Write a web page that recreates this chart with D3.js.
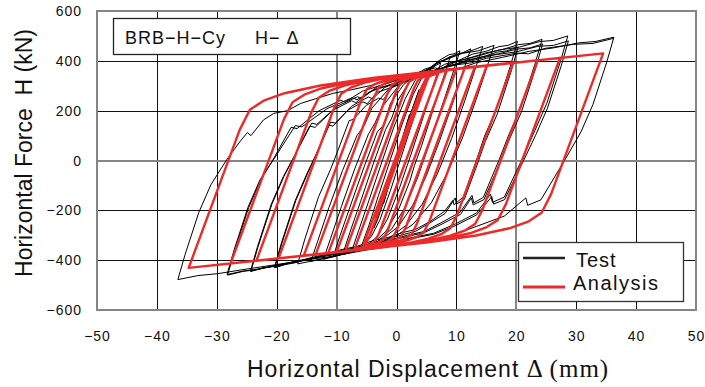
<!DOCTYPE html>
<html>
<head>
<meta charset="utf-8">
<script src="https://cdn.jsdelivr.net/npm/d3@7"></script>
<style>
  body { margin: 0; background: #fff; }
  text { font-family: "Liberation Sans", Arial, sans-serif; fill: #111; }
</style>
</head>
<body>
<svg id="chart" width="705" height="387"></svg>
<script>
// axis ticks
const xTicks = [-50, -40, -30, -20, -10, 0, 10, 20, 30, 40, 50];
const xTickLabels = ['\u221250', '\u221240', '\u221230', '\u221220', '\u221210', '0', '10', '20', '30', '40', '50'];
const yTicks = [-600, -400, -200, 0, 200, 400, 600];
const yTickLabels = ['\u2212600', '\u2212400', '\u2212200', '0', '200', '400', '600'];
// grid lines that come out grey and wider in the original
const greyX = [-10, 20];
const greyY = [0];

const seriesNames = ['Test', 'Analysis'];

// displacement (mm), horizontal force (kN)
const testCurve = [
  [0, 0], [1.2, 105], [2.2, 185],
  [1.1, 100], [-0.6, -35], [-1.6, -125], [-2.2, -175],
  [-1.0, -75], [0.6, 55], [2.2, 175], [3.2, 245], [3.8, 285],
  [2.6, 205], [1.0, 80], [-0.6, -50], [-2.2, -170], [-3.2, -240], [-3.8, -272],
  [-2.5, -180], [-0.8, -60], [1.0, 70], [2.8, 200], [4.3, 300], [5.0, 335], [5.6, 360],
  [4.5, 290], [3.0, 180], [1.0, 30], [-1.0, -120], [-2.8, -240], [-4.2, -305], [-5.0, -325], [-5.8, -340],
  [-4.6, -260], [-3.0, -140], [-1.0, 5], [1.0, 150], [2.8, 265], [4.2, 330], [5.6, 365], [6.6, 382], [7.4, 392],
  [6.2, 305], [4.6, 185], [2.5, 30], [0.5, -110], [-1.5, -235], [-3.2, -305], [-4.8, -338], [-6.3, -355], [-7.5, -365],
  [-6.3, -280], [-4.6, -160], [-2.5, -10], [-0.5, 130], [1.5, 250], [3.2, 325], [5.0, 365], [6.0, 372], [7.0, 395], [8.0, 402], [9.0, 418],
  [7.8, 330], [6.2, 210], [4.2, 60], [3.0, -20], [2.2, -85], [0.2, -205], [-1.8, -285], [-3.8, -330], [-6.2, -358], [-9.0, -378],
  [-7.8, -290], [-6.0, -165], [-3.9, -15], [-1.8, 125], [-0.8, 170], [0.2, 240], [2.2, 318], [4.5, 365], [5.8, 375], [7.0, 400], [8.8, 425], [9.6, 428], [10.6, 440],
  [9.4, 350], [7.7, 225], [5.6, 75], [3.5, -70], [1.4, -190], [-0.8, -275], [-3.2, -325], [-6.2, -355], [-8.6, -372], [-10.6, -387],
  [-9.4, -300], [-7.6, -175], [-5.4, -25], [-3.2, 115], [-2.2, 140], [-1.0, 230], [1.2, 305], [3.8, 355], [5.2, 362], [6.8, 392], [9.8, 425], [11.0, 432], [12.4, 448],
  [11.2, 362], [9.4, 232], [7.2, 80], [5.0, -60], [2.7, -180], [0.3, -265], [-2.6, -320], [-5.8, -350], [-9.0, -375], [-12.2, -397],
  [-11.0, -312], [-9.2, -185], [-7.0, -35], [-4.7, 105], [-3.6, 150], [-2.4, 215], [0.2, 295], [3.2, 350], [5.0, 358], [6.6, 388], [10.4, 428], [12.2, 438], [14.4, 458],
  [13.2, 372], [11.4, 240], [9.2, 88], [6.8, -55], [4.3, -175], [1.6, -260], [-1.6, -318], [-5.4, -352], [-9.8, -380], [-14.3, -405],
  [-13.1, -320], [-11.3, -190], [-9.0, -40], [-6.6, 100], [-5.4, 140], [-4.1, 210], [-1.2, 290], [2.4, 345], [4.4, 352], [6.6, 390], [11.0, 430], [13.6, 440], [16.3, 462],
  [15.1, 375], [13.3, 245], [11.0, 90], [8.5, -50], [5.8, -170], [2.8, -255], [-0.8, -315], [-5.2, -352], [-10.4, -385], [-16.5, -415],
  [-15.3, -315], [-13.0, -145], [-11.0, -35], [-9.75, 42], [-7.9, 160], [-7.2, 165], [-5.07, 221], [-3.0, 250], [-2.2, 245], [-0.7, 293], [1.4, 315], [3.35, 339], [5.6, 352], [6.2, 360], [8.03, 386], [10.4, 402], [12.7, 427], [14.9, 438], [17.1, 457], [18.6, 462], [20.2, 478],
  [19.0, 378], [16.7, 208], [14.7, 98], [13.3, -2], [11.2, -145], [9.6, -178], [9.4, -160], [8.05, -203], [5.6, -245], [3.15, -277], [0.9, -290], [-1.4, -309], [-4.0, -322], [-6.65, -345], [-9.3, -358], [-11.9, -377], [-14.3, -390], [-16.8, -409], [-18.5, -415], [-20.3, -430],
  [-19.1, -330], [-16.8, -160], [-14.8, -50], [-13.4, 26], [-11.3, 142], [-10.6, 138], [-8.1, 202], [-5.6, 235], [-4.9, 228], [-3.2, 273], [-1.0, 292], [1.35, 319], [4.0, 338], [4.6, 334], [6.6, 364], [9.2, 382], [11.9, 404], [14.3, 415], [16.8, 435], [18.4, 440], [20.3, 455],
  [19.1, 355], [16.8, 185], [14.8, 75], [13.4, -21], [11.3, -157], [10.0, -175], [9.8, -150], [8.1, -213], [5.6, -250], [3.2, -284], [1.0, -298], [-1.4, -314], [-4.0, -330], [-6.7, -349], [-9.3, -362], [-11.9, -380], [-14.4, -395], [-16.9, -410], [-18.6, -418], [-20.4, -430],
  [-19.2, -330], [-16.9, -160], [-14.9, -50], [-13.3, 30], [-11.0, 154], [-10.2, 150], [-7.5, 218], [-4.7, 255], [-4.0, 248], [-1.96, 293], [0.6, 318], [3.1, 341], [6.0, 362], [6.7, 356], [9.0, 390], [12.0, 410], [14.9, 432], [17.6, 445], [20.4, 465], [22.3, 470], [24.3, 486],
  [23.1, 386], [20.8, 216], [18.8, 106], [17.1, 1], [14.5, -148], [12.9, -170], [12.6, -140], [10.6, -208], [7.6, -248], [4.6, -285], [1.8, -300], [-1.0, -318], [-4.2, -335], [-7.5, -357], [-10.7, -372], [-13.9, -390], [-17.0, -405], [-20.0, -423], [-22.2, -430], [-24.3, -445],
  [-23.1, -345], [-20.8, -175], [-18.8, -65], [-17.1, 15], [-14.5, 138], [-13.6, 133], [-10.6, 202], [-7.5, 240], [-6.8, 232], [-4.5, 276], [-1.7, 298], [1.1, 324], [4.3, 346], [5.0, 340], [7.6, 372], [10.8, 392], [14.0, 415], [17.0, 428], [20.1, 447], [22.3, 452], [24.4, 468],
  [23.2, 368], [20.9, 198], [18.9, 88], [17.2, -13], [14.6, -157], [12.8, -178], [12.5, -150], [10.7, -216], [7.6, -255], [4.6, -290], [1.8, -305], [-1.0, -322], [-4.2, -338], [-7.5, -360], [-10.7, -375], [-14.0, -392], [-17.0, -407], [-20.1, -424], [-22.3, -432], [-24.4, -445],
  [-23.2, -345], [-20.9, -175], [-18.9, -65], [-17.0, 20], [-14.15, 150], [-13.3, 145], [-9.9, 218], [-6.5, 256], [-5.8, 248], [-3.2, 297], [-0.1, 322], [2.95, 348], [6.5, 372], [7.2, 365], [10.1, 398], [13.7, 420], [17.2, 444], [20.5, 455], [23.85, 477], [26.2, 482], [28.6, 500],
  [27.4, 400], [25.1, 230], [23.1, 120], [21.05, 10], [18.0, -147], [16.0, -168], [15.7, -135], [13.35, -211], [9.8, -255], [6.2, -292], [2.8, -308], [-0.5, -327], [-4.3, -345], [-8.2, -367], [-12.0, -383], [-15.9, -402], [-19.5, -418], [-23.1, -437], [-25.6, -445], [-28.2, -460],
  [-27.0, -360], [-24.7, -190], [-22.7, -80], [-20.6, 4], [-17.6, 133], [-16.6, 128], [-12.9, 200], [-9.3, 242], [-8.6, 234], [-5.7, 278], [-2.4, 303], [0.94, 329], [4.8, 352], [5.5, 346], [8.65, 379], [12.5, 400], [16.4, 424], [20.0, 436], [23.6, 458], [26.2, 462], [28.7, 480],
  [27.5, 380], [25.2, 210], [23.2, 100], [21.1, -6], [18.05, -157], [16.2, -175], [15.9, -145], [13.4, -218], [9.8, -262], [6.2, -296], [2.8, -312], [-0.5, -330], [-4.3, -348], [-8.2, -369], [-12.0, -384], [-15.9, -402], [-19.5, -418], [-23.2, -436], [-25.7, -444], [-28.3, -458],
  [-27.1, -358], [-24.8, -188], [-22.8, -78], [-20.4, 8], [-16.9, 140], [-15.8, 135], [-11.6, 208], [-7.4, 252], [-6.6, 244], [-3.3, 289], [0.5, 315], [4.4, 340], [8.8, 368], [9.6, 361], [13.25, 392], [17.7, 414], [22.1, 438], [26.2, 452], [30.4, 472], [33.3, 478], [36.3, 495],
  [35.1, 395], [32.8, 225], [30.8, 115], [28.1, 2], [24.1, -158], [21.9, -180], [21.6, -150], [18.0, -223], [13.3, -265], [8.6, -306], [4.2, -322], [-0.2, -342], [-5.2, -360], [-10.25, -383], [-15.3, -400], [-20.4, -419], [-25.1, -436], [-29.8, -454], [-33.2, -462], [-36.5, -478],
  [-35.3, -378], [-33.0, -208], [-31.0, -98], [-28.3, 5], [-26.0, 80], [-24.9, 112], [-24.3, 100], [-22.2, 163], [-20.5, 189], [-18.2, 200], [-16.0, 229], [-13.5, 248], [-10.5, 270], [-8.8, 278], [-7.7, 283], [-4.5, 300], [0.0, 331], [2.0, 328], [5.0, 355], [10.0, 384], [12.5, 392], [15.0, 410], [20.1, 431], [22.0, 428], [24.8, 450], [29.5, 466], [32.8, 470], [36.2, 490]
];

const analysisCurve = [
  [0, 0], [2, 130], [-2, -130], [3.5, 228], [-3.5, -228],
  [4.70, 306], [5.3, 333],
  [-4.47, -302], [-5.06, -330], [-5.5, -337],
  [4.27, 298], [4.90, 328], [5.74, 341], [7.0, 352],
  [-2.91, -292], [-3.56, -323], [-4.45, -337], [-5.80, -349], [-7.0, -355],
  [2.92, 290], [3.60, 322], [4.52, 336], [5.93, 349], [8.4, 361],
  [-1.52, -284], [-2.23, -317], [-3.19, -332], [-4.65, -345], [-7.15, -358], [-8.5, -362],
  [1.39, 281], [2.13, 316], [3.13, 331], [4.65, 344], [7.25, 358], [10.0, 367],
  [0.13, -274], [-0.64, -311], [-1.68, -327], [-3.26, -341], [-5.96, -355], [-10.0, -368],
  [-0.16, 271], [0.64, 309], [1.71, 326], [3.35, 340], [6.15, 355], [10.35, 369], [11.4, 372],
  [1.59, -266], [0.77, -305], [-0.34, -322], [-2.03, -337], [-4.93, -352], [-9.28, -366], [-11.4, -372],
  [-1.62, 263], [-0.78, 303], [0.37, 321], [2.11, 336], [5.10, 352], [9.58, 367], [13.1, 377],
  [3.37, -256], [2.49, -298], [1.30, -316], [-0.51, -332], [-3.60, -348], [-8.25, -364], [-13.5, -378],
  [-3.82, 251], [-2.91, 295], [-1.67, 314], [0.22, 331], [3.45, 347], [8.31, 364], [15.1, 382],
  [5.48, -244], [4.52, -289], [3.23, -309], [1.27, -326], [-2.10, -344], [-7.15, -361], [-15.5, -383],
  [-5.93, 239], [-4.94, 286], [-3.60, 307], [-1.56, 325], [1.94, 343], [7.19, 361], [19.5, 393],
  [10.05, -222], [8.98, -272], [7.53, -295], [5.33, -314], [1.55, -334], [-4.13, -353], [-19.7, -393],
  [-10.37, 214], [-9.22, 268], [-7.66, 292], [-5.30, 313], [-1.24, 334], [4.85, 354], [23.6, 403],
  [14.38, -196], [13.15, -254], [11.49, -280], [8.97, -302], [4.65, -325], [-1.84, -347], [-23.4, -403],
  [-14.28, 190], [-12.99, 252], [-11.24, 279], [-8.57, 302], [-4.01, 326], [2.84, 349], [27.3, 412],
  [18.28, -174], [16.92, -239], [15.07, -267], [12.27, -292], [7.46, -317], [0.26, -341], [-27.7, -413],
  [-18.80, 165], [-17.36, 234], [-15.41, 264], [-12.44, 290], [-7.35, 316], [0.28, 342], [34.5, 430],
  [25.79, -136], [24.22, -210], [22.09, -244], [18.85, -272], [13.29, -301], [4.96, -329], [-34.7, -431],
  [-26.18, 123], [-24.48, 204], [-22.18, 240], [-18.68, 270], [-12.68, 301], [-3.68, 332], [34.5, 430]
];

const svg = d3.select('#chart');
const margin = { top: 11, right: 9, bottom: 77, left: 97 };
const width = 705 - margin.left - margin.right;
const height = 387 - margin.top - margin.bottom;

const x = d3.scaleLinear().domain([-50, 50]).range([margin.left, margin.left + width]);
const y = d3.scaleLinear().domain([-600, 600]).range([margin.top + height, margin.top]);

svg.append('rect')
  .attr('width', 705)
  .attr('height', 387)
  .attr('fill', '#fff');

// grid
const grid = svg.append('g');
xTicks.slice(1, -1).forEach(v => {
  const grey = greyX.includes(v);
  const px = grey ? Math.round(x(v)) : Math.round(x(v)) + 0.5;
  grid.append('line')
    .attr('x1', px).attr('x2', px)
    .attr('y1', y(600)).attr('y2', y(-600))
    .attr('stroke', grey ? '#858585' : '#111')
    .attr('stroke-width', grey ? 2 : 1);
});
yTicks.slice(1, -1).forEach(v => {
  const grey = greyY.includes(v);
  const py = grey ? Math.round(y(v)) : Math.round(y(v)) + 0.5;
  grid.append('line')
    .attr('x1', x(-50)).attr('x2', x(50))
    .attr('y1', py).attr('y2', py)
    .attr('stroke', grey ? '#858585' : '#111')
    .attr('stroke-width', grey ? 2 : 1);
});

svg.append('rect')
  .attr('x', x(-50))
  .attr('y', y(600))
  .attr('width', x(50) - x(-50))
  .attr('height', y(-600) - y(600))
  .attr('fill', 'none')
  .attr('stroke', '#858585')
  .attr('stroke-width', 2);

// tick labels
svg.append('g')
  .selectAll('text')
  .data(xTicks)
  .join('text')
    .attr('x', d => x(d) + 0.5)
    .attr('y', 341)
    .attr('text-anchor', 'middle')
    .style('font-size', '14px')
    .style('letter-spacing', '1px')
    .text((d, i) => xTickLabels[i]);

svg.append('g')
  .selectAll('text')
  .data(yTicks)
  .join('text')
    .attr('x', 82)
    .attr('y', d => y(d) + 5)
    .attr('text-anchor', 'end')
    .style('font-size', '14px')
    .style('letter-spacing', '1px')
    .text((d, i) => yTickLabels[i]);

// curves
const line = d3.line()
  .x(d => x(d[0]))
  .y(d => y(d[1]));

svg.append('path')
  .datum(testCurve)
  .attr('d', line)
  .attr('fill', 'none')
  .attr('stroke', '#000')
  .attr('stroke-width', 1)
  .attr('stroke-linejoin', 'round');

svg.append('path')
  .datum(analysisCurve)
  .attr('d', line)
  .attr('fill', 'none')
  .attr('stroke', '#ec2a2a')
  .attr('stroke-width', 2.4)
  .attr('stroke-linejoin', 'round');

// title box
svg.append('rect')
  .attr('x', 113.5).attr('y', 18.5)
  .attr('width', 237).attr('height', 36)
  .attr('fill', '#fff')
  .attr('stroke', '#222')
  .attr('stroke-width', 1.3);

svg.append('text')
  .attr('x', 125).attr('y', 44)
  .style('font-size', '18px')
  .style('letter-spacing', '1px')
  .text('BRB\u2212H\u2212Cy');

svg.append('text')
  .attr('x', 255).attr('y', 44)
  .style('font-size', '18px')
  .style('letter-spacing', '1px')
  .text('H\u2212 \u0394');

// legend
const legend = svg.append('g');
legend.append('rect')
  .attr('x', 518.5).attr('y', 242.5)
  .attr('width', 165).attr('height', 59)
  .attr('fill', '#fff')
  .attr('stroke', '#333')
  .attr('stroke-width', 1.3);

legend.append('line')
  .attr('x1', 523).attr('x2', 565)
  .attr('y1', 258).attr('y2', 258)
  .attr('stroke', '#222')
  .attr('stroke-width', 2.5);

legend.append('line')
  .attr('x1', 523).attr('x2', 565)
  .attr('y1', 287).attr('y2', 287)
  .attr('stroke', '#ec2a2a')
  .attr('stroke-width', 3);

legend.append('text')
  .attr('x', 576).attr('y', 267)
  .style('font-size', '20px')
  .style('letter-spacing', '1px')
  .text(seriesNames[0]);

legend.append('text')
  .attr('x', 573).attr('y', 289.5)
  .style('font-size', '20px')
  .style('letter-spacing', '1.5px')
  .text(seriesNames[1]);

// axis titles
svg.append('text')
  .attr('transform', 'translate(32,153) rotate(-90)')
  .attr('text-anchor', 'middle')
  .style('font-size', '23px')
  .style('white-space', 'pre')
  .text('Horizontal Force  H (kN)');

const xTitle = svg.append('text')
  .attr('x', 247)
  .attr('y', 377)
  .style('white-space', 'pre');

xTitle.append('tspan')
  .style('font-size', '23px')
  .style('letter-spacing', '1px')
  .text('Horizontal Displacement ');

xTitle.append('tspan')
  .style('font-family', '"Liberation Serif", "Times New Roman", serif')
  .style('font-size', '25px')
  .style('letter-spacing', '1px')
  .text('\u0394 (mm)');
</script>
</body>
</html>
